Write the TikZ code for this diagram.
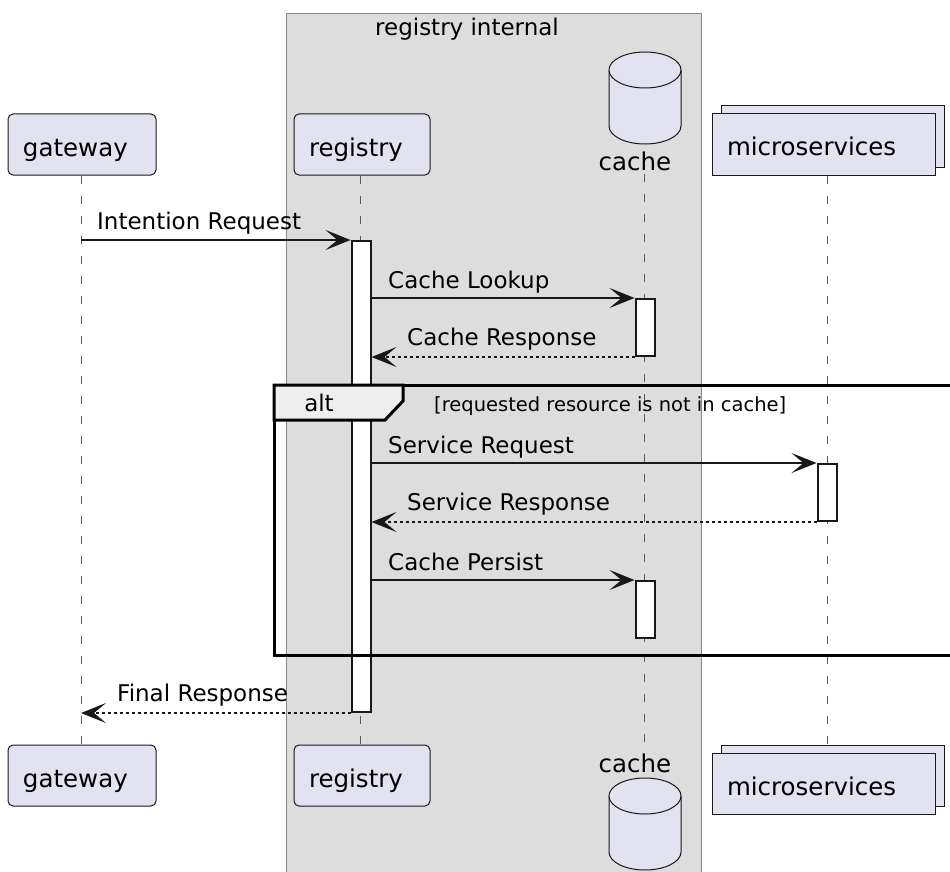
\documentclass[tikz,border=0pt]{standalone}
\usepackage{fontspec}
\setmainfont{DejaVu Sans}
\usetikzlibrary{arrows.meta}
\usetikzlibrary{shadows}

\definecolor{partfill}{HTML}{E2E2F0}
\definecolor{partline}{HTML}{181818}
\definecolor{boxfill}{HTML}{DDDDDD}
\definecolor{boxline}{HTML}{888888}
\definecolor{tabfill}{HTML}{EEEEEE}

\tikzset{
  participant/.style={draw=partline, fill=partfill, line width=1pt, rounded corners=5pt,
    inner xsep=15pt, inner ysep=0pt, minimum height=61pt, text height=24pt, text depth=0pt,
    align=left, font=\fontsize{24.5}{29}\selectfont},
  collection/.style={participant, rounded corners=0pt, text height=23pt,
    copy shadow={shadow xshift=9pt, shadow yshift=8pt}},
  dbshape/.style={draw=partline, fill=partfill, line width=1pt},
  lifeline/.style={draw=gray!70!black, line width=1pt, dash pattern=on 8pt off 12pt},
  actbar/.style={draw=partline, fill=white, line width=2pt, minimum width=19pt, inner sep=0pt, anchor=north},
  msg/.style={draw=partline, line width=1.5pt, -{Stealth[length=25pt, width=20pt, inset=12pt]}},
  reply/.style={msg, dash pattern=on 3pt off 3pt},
  msglabel/.style={anchor=base west, inner sep=0pt, font=\fontsize{23}{28}\selectfont},
  altframe/.style={draw=black, line width=3pt}
}

% database drum: centre x, top y
\newcommand{\dbdrum}[2]{%
  \filldraw[dbshape] (#1-36,-#2-18) -- (#1-36,-#2-74)
    arc[start angle=180, end angle=360, x radius=36, y radius=18] -- (#1+36,-#2-18)
    arc[start angle=0, end angle=180, x radius=36, y radius=18] -- cycle;
  \draw[dbshape] (#1-36,-#2-18) arc[start angle=180, end angle=360, x radius=36, y radius=18];}

\begin{document}
\begin{tikzpicture}[x=1pt, y=1pt]
    \clip (0,0) rectangle (950,-872);
    % group box
    \filldraw [fill=boxfill, draw=boxline, line width=1pt] (286,-14) rectangle (701,-900);
    \node [anchor=base, inner sep=0pt, font=\fontsize{23}{28}\selectfont] (grpTitle) at (467,-36) {registry internal};

    % lifeline positions
    \coordinate (gwX) at (81,0);
    \coordinate (regX) at (360,0);
    \coordinate (cacheX) at (644,0);
    \coordinate (msX) at (827,0);

    % participants, top
    \node [participant, text width=118pt] (gwTop) at (82,-144.5) {gateway};
    \node [participant, text width=106pt] (regTop) at (362,-144.5) {registry};
    \dbdrum{645}{52}
    \node [anchor=base, font=\fontsize{24.5}{29}\selectfont] (cacheTop) at (635,-170) {cache};
    \node [collection, text width=193pt] (msTop) at (823.5,-144.5) {microservices};

    % participants, bottom
    \node [participant, text width=118pt] (gwBot) at (82,-775.5) {gateway};
    \node [participant, text width=106pt] (regBot) at (362,-775.5) {registry};
    \node [anchor=base, font=\fontsize{24.5}{29}\selectfont] (cacheBot) at (635,-772) {cache};
    \dbdrum{645}{778}
    \node [collection, text width=193pt] (msBot) at (823.5,-783.5) {microservices};

    % lifelines
    \draw [lifeline] (gwX |- gwTop.south) -- (gwX |- gwBot.north);
    \draw [lifeline] (regX |- regTop.south) -- (regX |- regBot.north);
    \draw [lifeline] (cacheX |- cacheTop.south) -- (cacheX |- cacheBot.north);
    \draw [lifeline] (msX |- msTop.south) -- (msX |- msBot.north);

    % activations
    \node [actbar, minimum height=471pt] (regAct) at (361,-240) {};
    \node [actbar, minimum height=57pt] (cacheAct1) at (645,-298) {};
    \node [actbar, minimum height=57pt] (msAct) at (827,-463) {};
    \node [actbar, minimum height=57pt] (cacheAct2) at (645,-580) {};

    % messages
    \draw [msg] (gwX |- regAct.north) -- (regAct.north west);
    \draw [msg] (regAct.east |- cacheAct1.north) -- (cacheAct1.north west);
    \draw [reply] (cacheAct1.south west) -- (regAct.east |- cacheAct1.south);
    \draw [msg] (regAct.east |- msAct.north) -- (msAct.north west);
    \draw [reply] (msAct.south west) -- (regAct.east |- msAct.south);
    \draw [msg] (regAct.east |- cacheAct2.north) -- (cacheAct2.north west);
    \draw [reply] (regAct.south west) -- (gwX |- regAct.south);

    % alt fragment
    \draw [altframe] (274,-385) rectangle (960,-655);
    \filldraw [altframe, fill=tabfill] (274,-385) -- (403,-385) -- (403,-401) -- (385,-420) -- (274,-420) -- cycle;
    \node [anchor=base, inner sep=0pt, font=\fontsize{23}{28}\selectfont] (altLbl) at (319,-411) {alt};
    \node [anchor=base west, inner sep=0pt, font=\fontsize{19.5}{24}\selectfont] (altGuard) at (434,-411) {[requested resource is not in cache]};

    % message labels
    \node [msglabel] (lblIntent) at (97,-229) {Intention Request};
    \node [msglabel] (lblLookup) at (388,-288) {Cache Lookup};
    \node [msglabel] (lblCacheResp) at (407,-345) {Cache Response};
    \node [msglabel] (lblSvcReq) at (388,-453) {Service Request};
    \node [msglabel] (lblSvcResp) at (407,-510) {Service Response};
    \node [msglabel] (lblPersist) at (388,-570) {Cache Persist};
    \node [msglabel] (lblFinal) at (117,-701) {Final Response};
\end{tikzpicture}
\end{document}
